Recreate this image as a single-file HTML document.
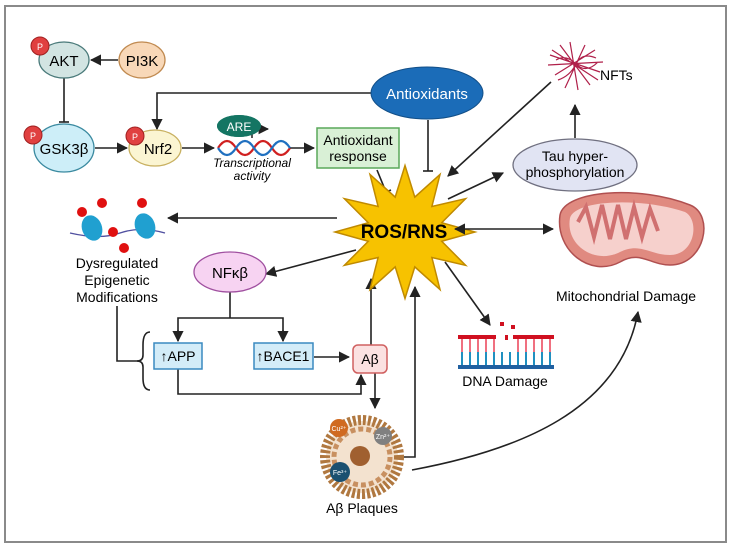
<!DOCTYPE html>
<html><head><meta charset="utf-8"><style>
html,body{margin:0;padding:0;background:#fff;}
svg{display:block;font-family:"Liberation Sans",sans-serif;}
</style></head><body>
<svg width="731" height="548" viewBox="0 0 731 548" xmlns="http://www.w3.org/2000/svg">
<defs>
<marker id="a" viewBox="0 0 10 10" refX="9" refY="5" markerWidth="7" markerHeight="7" orient="auto-start-reverse"><path d="M0,0 L10,5 L0,10 z" fill="#222"/></marker>
</defs>
<rect x="5" y="6" width="721" height="536" fill="#fff" stroke="#8a8a8a" stroke-width="2"/>
<g stroke="#222" stroke-width="1.6" fill="none">
<line x1="118" y1="60" x2="91" y2="60" marker-end="url(#a)"/>
<line x1="64" y1="78" x2="64" y2="122"/><line x1="59" y1="122" x2="69" y2="122"/>
<line x1="95" y1="148" x2="127" y2="148" marker-end="url(#a)"/>
<polyline points="373,93 157,93 157,129" marker-end="url(#a)"/>
<line x1="428" y1="120" x2="428" y2="171"/><line x1="423" y1="171" x2="433" y2="171"/>
<line x1="182" y1="148" x2="214" y2="148" marker-end="url(#a)"/>
<line x1="290" y1="148" x2="314" y2="148" marker-end="url(#a)"/>
<line x1="377" y1="170" x2="386" y2="192"/><line x1="381" y1="194" x2="391" y2="190"/>
<line x1="551" y1="82" x2="448" y2="176" marker-end="url(#a)"/>
<line x1="575" y1="138" x2="575" y2="105" marker-end="url(#a)"/>
<line x1="448" y1="199" x2="503" y2="173" marker-end="url(#a)"/>
<line x1="337" y1="218" x2="168" y2="218" marker-end="url(#a)"/>
<line x1="356" y1="250" x2="266" y2="274" marker-end="url(#a)"/>
<polyline points="230,292 230,318"/>
<polyline points="178,340 178,318 283,318 283,340"/>
<line x1="178" y1="330" x2="178" y2="341" marker-end="url(#a)"/>
<line x1="283" y1="330" x2="283" y2="341" marker-end="url(#a)"/>
<polyline points="117,306 117,361 138,361"/>
<path d="M150,332 Q143,332 143,345 L143,355 Q143,361 137,361 Q143,361 143,367 L143,378 Q143,390 150,390"/>
<line x1="314" y1="357" x2="349" y2="357" marker-end="url(#a)"/>
<polyline points="178,369 178,394 361,394 361,375" marker-end="url(#a)"/>
<line x1="371" y1="345" x2="371" y2="279" marker-end="url(#a)"/>
<line x1="375" y1="373" x2="375" y2="408" marker-end="url(#a)"/>
<polyline points="403,457 415,457 415,287" marker-end="url(#a)"/>
<line x1="445" y1="262" x2="490" y2="325" marker-end="url(#a)"/>
<path d="M412,470 C520,450 620,410 638,312" marker-end="url(#a)"/>
</g>
<ellipse cx="64" cy="60" rx="25" ry="18" fill="#d2e4e2" stroke="#4a7a7a" stroke-width="1.3"/>
<text x="64" y="66" font-size="15" text-anchor="middle">AKT</text>
<circle cx="40" cy="46" r="9" fill="#e04040" stroke="#a02020"/><text x="40" y="50" font-size="9" fill="#fff" text-anchor="middle">P</text>
<ellipse cx="142" cy="60" rx="23" ry="18" fill="#f8d8b8" stroke="#c08a50" stroke-width="1.3"/>
<text x="142" y="66" font-size="15" text-anchor="middle">PI3K</text>
<ellipse cx="64" cy="148" rx="30" ry="24" fill="#cdeef8" stroke="#3a8aa0" stroke-width="1.3"/>
<text x="64" y="154" font-size="15" text-anchor="middle">GSK3β</text>
<circle cx="33" cy="135" r="9" fill="#e04040" stroke="#a02020"/><text x="33" y="139" font-size="9" fill="#fff" text-anchor="middle">P</text>
<ellipse cx="155" cy="148" rx="26" ry="18" fill="#fbf5d2" stroke="#c8b060" stroke-width="1.3"/>
<text x="158" y="154" font-size="15" text-anchor="middle">Nrf2</text>
<circle cx="135" cy="136" r="9" fill="#e04040" stroke="#a02020"/><text x="135" y="140" font-size="9" fill="#fff" text-anchor="middle">P</text>
<ellipse cx="427" cy="93" rx="56" ry="26" fill="#1b6cb8" stroke="#124f88"/>
<text x="427" y="99" font-size="15" fill="#fff" text-anchor="middle">Antioxidants</text>
<ellipse cx="239" cy="126" rx="22" ry="11" fill="#147563"/>
<text x="239" y="131" font-size="12" fill="#fff" text-anchor="middle">ARE</text>
<polyline points="252,138 252,129 268,129" stroke="#222" stroke-width="1.5" fill="none" marker-end="url(#a)"/>
<ellipse cx="239" cy="126" rx="22" ry="11" fill="#147563"/>
<text x="239" y="131" font-size="12" fill="#fff" text-anchor="middle">ARE</text>
<path d="M218,148 q9,-14 18,0 t18,0 t18,0 t18,0" stroke="#d02020" stroke-width="2.2" fill="none"/>
<path d="M218,148 q9,14 18,0 t18,0 t18,0 t18,0" stroke="#2070c0" stroke-width="2.2" fill="none"/>
<text x="252" y="167" font-size="12" font-style="italic" text-anchor="middle">Transcriptional</text>
<text x="252" y="180" font-size="12" font-style="italic" text-anchor="middle">activity</text>
<rect x="317" y="128" width="82" height="40" fill="#d9f0d6" stroke="#5aa85a" stroke-width="1.5"/>
<text x="358" y="145" font-size="14" text-anchor="middle">Antioxidant</text>
<text x="358" y="161" font-size="14" text-anchor="middle">response</text>
<polygon points="405,165.5 414.8,197.1 440,174.4 431.9,206.5 465.6,198.7 441.7,222.7 475,232 441.7,241.3 465.6,265.3 431.9,257.5 440,289.6 414.8,266.9 405,298.5 395.2,266.9 370,289.6 378.1,257.5 344.4,265.3 368.3,241.3 335,232 368.3,222.7 344.4,198.7 378.1,206.5 370,174.4 395.2,197.1" fill="#f7c200" stroke="#c08a00" stroke-width="1.5"/>
<text x="404" y="238" font-size="19" font-weight="bold" text-anchor="middle">ROS/RNS</text>
<line x1="455" y1="229" x2="553" y2="229" stroke="#222" stroke-width="1.6" marker-start="url(#a)" marker-end="url(#a)"/>
<g stroke="#b0204a" stroke-width="1.2" fill="none">
<path d="M550,55 L600,72 M555,75 L595,50 M560,45 L590,85 M548,65 L603,62 M565,88 L585,45 M552,50 L598,80 M570,42 L578,90 M556,60 q10,-6 20,4 t22,-2 M558,80 q12,-4 18,-16 t20,-6"/>
</g>
<text x="600" y="80" font-size="14">NFTs</text>
<ellipse cx="575" cy="165" rx="62" ry="26" fill="#e1e4f3" stroke="#707080" stroke-width="1.3"/>
<text x="575" y="161" font-size="14" text-anchor="middle">Tau hyper-</text>
<text x="575" y="177" font-size="14" text-anchor="middle">phosphorylation</text>
<path d="M560,215 C565,190 640,185 690,205 C715,215 705,265 670,265 C650,265 640,250 620,262 C590,278 555,250 560,215 Z" fill="#e08a80" stroke="#b05050" stroke-width="1.5"/>
<path d="M570,218 C575,200 640,197 685,212 C700,220 695,255 670,255 C650,255 640,242 620,252 C595,265 565,245 570,218 Z" fill="#f6d0cc"/>
<path d="M578,222 l8,-15 l8,30 l8,-32 l8,34 l8,-34 l8,34 l8,-32 l8,30 l8,-28 l8,22" stroke="#d07070" stroke-width="4" fill="none"/>
<text x="626" y="301" font-size="14" text-anchor="middle">Mitochondrial Damage</text>
<path d="M70,233 Q100,240 120,233 T165,233" stroke="#5050a0" stroke-width="1.3" fill="none"/>
<ellipse cx="92" cy="228" rx="10" ry="13" fill="#20a0d0" transform="rotate(-20 92 228)"/>
<ellipse cx="145" cy="226" rx="10" ry="13" fill="#20a0d0" transform="rotate(-20 145 226)"/>
<g fill="#e01010"><circle cx="82" cy="212" r="5"/><circle cx="102" cy="203" r="5"/><circle cx="113" cy="232" r="5"/><circle cx="124" cy="248" r="5"/><circle cx="142" cy="203" r="5"/></g>
<text x="117" y="268" font-size="14" text-anchor="middle">Dysregulated</text>
<text x="117" y="285" font-size="14" text-anchor="middle">Epigenetic</text>
<text x="117" y="302" font-size="14" text-anchor="middle">Modifications</text>
<ellipse cx="230" cy="272" rx="36" ry="20" fill="#f7d3f2" stroke="#a050a0" stroke-width="1.3"/>
<text x="230" y="278" font-size="15" text-anchor="middle">NFκβ</text>
<rect x="154" y="343" width="48" height="26" fill="#d3ecf8" stroke="#3a8ac0" stroke-width="1.5"/>
<text x="178" y="361" font-size="14" text-anchor="middle">↑APP</text>
<rect x="254" y="343" width="59" height="26" fill="#d3ecf8" stroke="#3a8ac0" stroke-width="1.5"/>
<text x="283" y="361" font-size="14" text-anchor="middle">↑BACE1</text>
<rect x="353" y="345" width="34" height="28" rx="5" fill="#fbe1e1" stroke="#d06060" stroke-width="1.5"/>
<text x="370" y="364" font-size="14" text-anchor="middle">Aβ</text>
<rect x="458" y="335" width="38" height="4" fill="#d01020"/><rect x="513" y="335" width="41" height="4" fill="#d01020"/>
<rect x="458" y="365" width="96" height="4" fill="#2060a0"/>
<g stroke-width="2">
<path d="M462,339v13M470,339v13M478,339v13M486,339v13M494,339v13M518,339v13M526,339v13M534,339v13M542,339v13M550,339v13" stroke="#f07080"/>
<path d="M462,352v13M470,352v13M478,352v13M486,352v13M494,352v13M502,352v13M510,352v13M518,352v13M526,352v13M534,352v13M542,352v13M550,352v13" stroke="#2090c0"/>
</g>
<g fill="#d01020"><rect x="500" y="322" width="4" height="4"/><rect x="511" y="325" width="4" height="4"/><rect x="505" y="335" width="3" height="5"/></g>
<text x="505" y="386" font-size="14" text-anchor="middle">DNA Damage</text>
<circle cx="362" cy="457" r="36" fill="#f3e2cf"/>
<circle cx="362" cy="457" r="37" fill="none" stroke="#b07840" stroke-width="10" stroke-dasharray="3 2"/>
<circle cx="362" cy="457" r="28" fill="none" stroke="#c89060" stroke-width="5" stroke-dasharray="5 3"/>
<circle cx="360" cy="456" r="10" fill="#a06030"/>
<circle cx="339" cy="428" r="9" fill="#d06a20"/><text x="339" y="431" font-size="7" fill="#fff" text-anchor="middle">Cu²⁺</text>
<circle cx="383" cy="436" r="9" fill="#808080"/><text x="383" y="439" font-size="7" fill="#fff" text-anchor="middle">Zn²⁺</text>
<circle cx="340" cy="472" r="10" fill="#1a5070"/><text x="340" y="475" font-size="7" fill="#fff" text-anchor="middle">Fe³⁺</text>
<text x="362" y="513" font-size="14" text-anchor="middle">Aβ Plaques</text>
</svg>
</body></html>
